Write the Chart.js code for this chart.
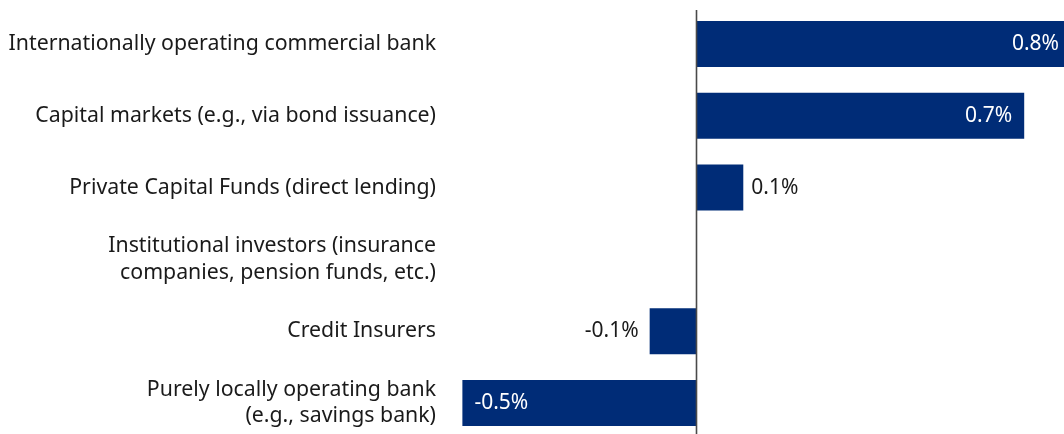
<!DOCTYPE html>
<html>
<head>
<meta charset="utf-8">
<script src="https://cdn.jsdelivr.net/npm/chart.js@4/dist/chart.umd.min.js"></script>
<style>
  html, body { margin: 0; padding: 0; background: #fff; overflow: hidden; }
  #wrap { position: relative; width: 1064px; height: 440px; }
</style>
</head>
<body>
<div id="wrap"><canvas id="chart"></canvas></div>
<script>
// funding sources and their change (percentage points)
const categories = [
    'Internationally operating commercial bank',
    'Capital markets (e.g., via bond issuance)',
    'Private Capital Funds (direct lending)',
    ['Institutional investors (insurance', 'companies, pension funds, etc.)'],
    'Credit Insurers',
    ['Purely locally operating bank', '(e.g., savings bank)'],
];
const shares = [0.8, 0.7, 0.1, null, -0.1, -0.5];

const NAVY = '#002c77';
const TEXT = '#1a1a1a';
const FONT = '"Noto Sans", "Open Sans", sans-serif';

// value labels: white inside long bars, dark beside short ones
const valueLabels = {
    id: 'valueLabels',
    afterDatasetsDraw(chart) {
        const ctx = chart.ctx;
        const meta = chart.getDatasetMeta(0);
        ctx.save();
        ctx.font = '21px ' + FONT;
        ctx.textBaseline = 'middle';
        meta.data.forEach((bar, i) => {
            const v = shares[i];
            if (v == null) return;
            const text = v.toFixed(1) + '%';
            const inside = Math.abs(v) >= 0.3;
            if (inside) {
                ctx.fillStyle = '#ffffff';
                ctx.textAlign = v > 0 ? 'right' : 'left';
                ctx.fillText(text, v > 0 ? bar.x - 12 : bar.x + 12, bar.y);
            } else {
                ctx.fillStyle = TEXT;
                ctx.textAlign = v > 0 ? 'left' : 'right';
                ctx.fillText(text, v > 0 ? bar.x + 8 : bar.x - 11, bar.y);
            }
        });

        // zero line over the bars
        const area = chart.chartArea;
        const x0 = Math.round(chart.scales.x.getPixelForValue(0)) + 0.5;
        ctx.strokeStyle = '#4a4a4a';
        ctx.lineWidth = 1.6;
        ctx.beginPath();
        ctx.moveTo(x0, area.top + 2);
        ctx.lineTo(x0, area.bottom);
        ctx.stroke();
        ctx.restore();
    }
};

new Chart(document.getElementById('chart'), {
    type: 'bar',
    data: {
        labels: categories,
        datasets: [{
            data: shares,
            backgroundColor: NAVY,
            borderWidth: 0,
            categoryPercentage: 0.8,
            barPercentage: 0.8,
        }],
    },
    options: {
        indexAxis: 'y',
        responsive: true,
        maintainAspectRatio: false,
        animation: false,
        layout: { padding: { top: 8, bottom: 1, left: 0, right: 0 } },
        plugins: {
            legend: { display: false },
            tooltip: { enabled: false },
        },
        scales: {
            x: {
                min: -0.535,
                max: 0.785,
                display: false,
                grid: { display: false },
            },
            y: {
                grid: { display: false, drawTicks: false },
                border: { display: false },
                afterFit(scale) {
                    scale.width = 446;
                    scale.paddingTop = 0;
                    scale.paddingBottom = 0;
                },
                ticks: {
                    color: TEXT,
                    padding: 10,
                    font: { family: FONT, size: 21.3, lineHeight: 1.25 },
                },
            },
        },
    },
    plugins: [valueLabels],
});
</script>
</body>
</html>
